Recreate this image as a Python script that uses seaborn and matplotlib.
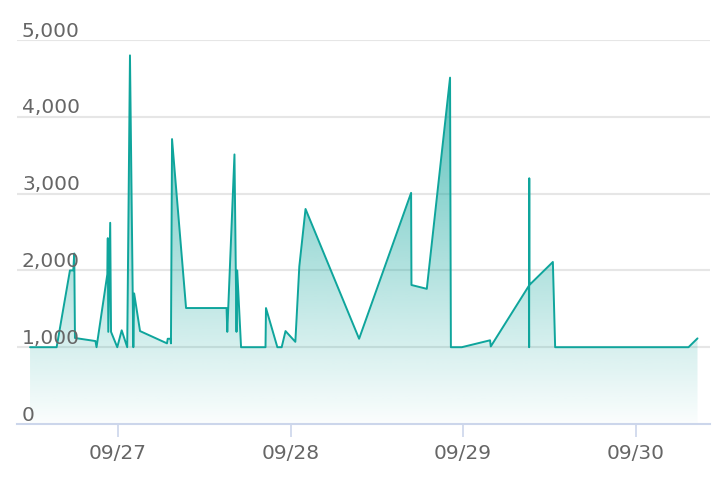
import numpy as np
import pandas as pd
import matplotlib
matplotlib.use("Agg")
import matplotlib.pyplot as plt
import matplotlib.dates as mdates
import matplotlib.transforms as mtransforms
import seaborn as sns

# ---------------- Data ----------------
times = [
    "2023-09-26 11:46", "2023-09-26 15:28", "2023-09-26 17:19", "2023-09-26 17:47",
    "2023-09-26 17:55", "2023-09-26 18:01", "2023-09-26 20:52", "2023-09-26 21:01",
    "2023-09-26 22:31", "2023-09-26 22:35", "2023-09-26 22:39", "2023-09-26 22:55",
    "2023-09-26 23:02", "2023-09-26 23:54", "2023-09-27 00:31", "2023-09-27 01:17",
    "2023-09-27 01:40", "2023-09-27 02:08", "2023-09-27 02:15", "2023-09-27 03:04",
    "2023-09-27 06:49", "2023-09-27 06:55", "2023-09-27 07:18", "2023-09-27 07:22",
    "2023-09-27 07:31", "2023-09-27 09:28", "2023-09-27 15:06", "2023-09-27 15:12",
    "2023-09-27 16:12", "2023-09-27 16:29", "2023-09-27 16:35", "2023-09-27 17:07",
    "2023-09-27 20:31", "2023-09-27 20:35", "2023-09-27 22:10", "2023-09-27 22:46",
    "2023-09-27 23:18", "2023-09-28 00:40", "2023-09-28 01:13", "2023-09-28 02:05",
    "2023-09-28 09:32", "2023-09-28 16:46", "2023-09-28 16:49", "2023-09-28 18:57",
    "2023-09-28 22:11", "2023-09-28 22:18", "2023-09-28 23:49", "2023-09-29 03:45",
    "2023-09-29 03:51", "2023-09-29 09:09", "2023-09-29 09:11", "2023-09-29 09:12",
    "2023-09-29 09:13", "2023-09-29 12:29", "2023-09-29 12:48", "2023-09-30 07:21",
    "2023-09-30 08:36",
]
values = [
    1000, 1000, 2000, 2000,
    2220, 1120, 1080, 1000,
    1950, 2420, 1200, 2620,
    1200, 1000, 1220, 1000,
    4800, 1000, 1700, 1210,
    1050, 1110, 1110, 1050,
    3710, 1510, 1510, 1200,
    3510, 1200, 2000, 1000,
    1000, 1510, 1000, 1000,
    1210, 1070, 2050, 2800,
    1110, 3010, 1810, 1760,
    4510, 1000, 1000, 1090,
    1010, 1800, 1000, 3200,
    1810, 2110, 1000, 1000,
    1115,
]
y_ticks = [0, 1000, 2000, 3000, 4000, 5000]
x_ticks = ["2023-09-27", "2023-09-28", "2023-09-29", "2023-09-30"]
x_labels = ["09/27", "09/28", "09/29", "09/30"]

df = pd.DataFrame({"time": pd.to_datetime(times), "value": values})

# ---------------- Style ----------------
sns.set_style("white")
plt.rcParams["font.family"] = ["DejaVu Sans"]
line_color = "#0fa59c"
label_color = "#666666"
axis_color = "#ccd6eb"
grid_color = "#e6e6e6"

fig = plt.figure(figsize=(7.22, 4.94), dpi=100)
ax = fig.add_axes([0.0235, 0.1417, 0.96, 0.7773])

# grid (under the translucent area)
for v in y_ticks[1:]:
    ax.axhline(v, color=grid_color, lw=1.5, zorder=0.5)

# ---------------- Gradient area ----------------
poly = ax.fill_between(df["time"], df["value"], 0, color="none", lw=0)
grad = np.linspace(0, 1, 256).reshape(-1, 1)
rgba = np.zeros((256, 1, 4))
rgba[..., :3] = matplotlib.colors.to_rgb(line_color)
rgba[..., 3] = 0.02 + 0.75 * grad
x0 = mdates.date2num(df["time"].min())
x1 = mdates.date2num(df["time"].max())
img = ax.imshow(rgba, aspect="auto", origin="lower",
                extent=[x0, x1, 0, 5000], zorder=1, interpolation="bilinear")
img.set_clip_path(poly.get_paths()[0], transform=ax.transData)

# line
sns.lineplot(data=df, x="time", y="value", color=line_color, lw=1.4,
             sort=False, ax=ax, zorder=3)

# ---------------- Axes ----------------
ax.set_xlim(pd.Timestamp("2023-09-26 09:57"), pd.Timestamp("2023-09-30 10:21"))
ax.set_ylim(0, 5000)
ax.set_aspect("auto")
for s in ["top", "left", "right"]:
    ax.spines[s].set_visible(False)
ax.spines["bottom"].set_color(axis_color)
ax.spines["bottom"].set_linewidth(1.5)
ax.spines["bottom"].set_zorder(2)

ax.set_xticks(pd.to_datetime(x_ticks))
ax.set_xticklabels(x_labels)
ax.tick_params(axis="x", length=9.5, width=1.2, color=axis_color,
               labelcolor=label_color, labelsize=14.5, pad=5, bottom=True)
ax.set_yticks([])
ax.set_xlabel("")
ax.set_ylabel("")

trans = mtransforms.blended_transform_factory(ax.transAxes, ax.transData)
for v in y_ticks:
    ax.text(0.0072, v + 45, f"{v:,}", transform=trans, ha="left", va="baseline",
            color=label_color, fontsize=14.5, zorder=4)

fig.savefig("out.png", dpi=100)
